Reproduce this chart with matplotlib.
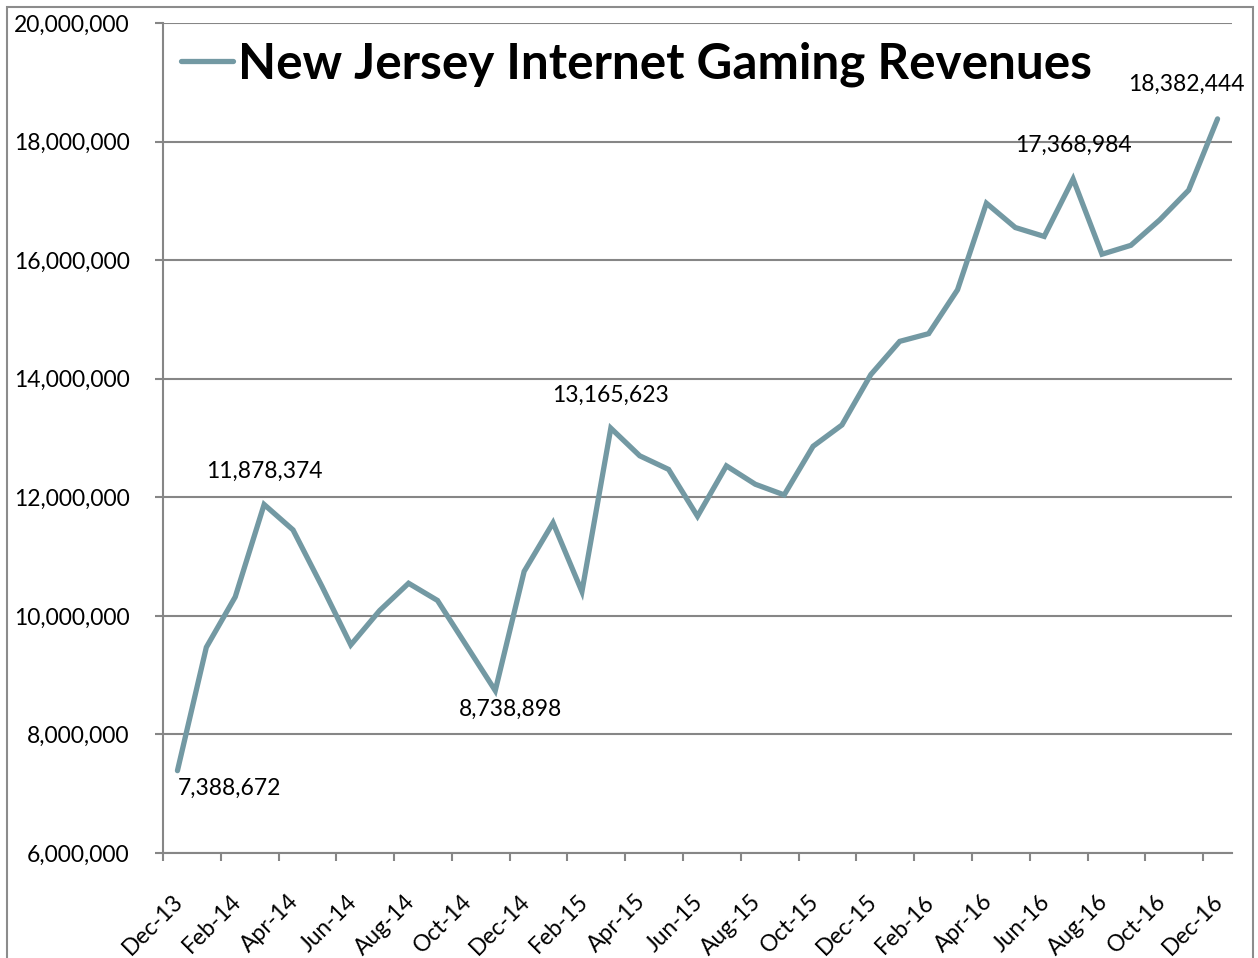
import matplotlib.pyplot as plt
from matplotlib.ticker import FuncFormatter
from matplotlib.transforms import ScaledTranslation
from matplotlib.patches import Rectangle

plt.rcParams['font.family'] = ['Lato', 'DejaVu Sans']

# Monthly revenue, Dec-13 .. Dec-16
revenue = [
    7388672, 9470000, 10320000, 11878374, 11450000, 10500000, 9510000,
    10090000, 10550000, 10260000, 9500000, 8738898, 10750000,
    11570000, 10410000, 13165623, 12700000, 12470000, 11680000,
    12530000, 12220000, 12040000, 12860000, 13220000, 14070000,
    14630000, 14760000, 15500000, 16960000, 16550000, 16400000,
    17368984, 16100000, 16250000, 16680000, 17180000, 18382444,
]
tick_labels = [
    "Dec-13", "Feb-14", "Apr-14", "Jun-14", "Aug-14", "Oct-14", "Dec-14",
    "Feb-15", "Apr-15", "Jun-15", "Aug-15", "Oct-15", "Dec-15",
    "Feb-16", "Apr-16", "Jun-16", "Aug-16", "Oct-16", "Dec-16",
]
# which points get a value label, and where (pixel offsets)
label_idx = [0, 3, 11, 15, 31, 36]
label_off = [(52, -18), (0, 33), (15, -19), (0, 33), (0, 34), (-31, 35)]

LINE = '#7399a3'
GRID = '#868686'
FS = 16.5

fig = plt.figure(figsize=(12.58, 9.58), dpi=100)
fig.patches.append(Rectangle((7 / 1258, -0.05), 1246 / 1258, 1.05 - 7 / 958,
                             transform=fig.transFigure, fill=False,
                             edgecolor='#8c8c8c', linewidth=1.5))
ax = fig.add_axes([163 / 1258, 1 - 853 / 958, (1232 - 163) / 1258, (853 - 23) / 958])

x = [i + 0.5 for i in range(len(revenue))]
ax.plot(x, revenue, color=LINE, linewidth=3.8, solid_joinstyle='miter',
        solid_capstyle='round', label='New Jersey Internet Gaming Revenues')

for i, (dx, dy) in zip(label_idx, label_off):
    ax.annotate(f"{revenue[i]:,}", (x[i], revenue[i]), xytext=(dx, dy),
                textcoords='offset pixels', ha='center', va='center',
                fontsize=FS, color='black')

ax.set_xlim(0, len(revenue))
ax.set_ylim(6000000, 20000000)
ax.set_yticks(range(6000000, 20000001, 2000000))
ax.yaxis.set_major_formatter(FuncFormatter(lambda v, p: f"{int(v):,}"))
ax.set_xticks(range(0, len(revenue), 2))
ax.set_xticklabels(tick_labels, rotation=45, ha='right', va='center',
                   rotation_mode='anchor')

ax.grid(axis='y', color=GRID, linewidth=1.5)
ax.set_axisbelow(True)
for s in ['top', 'right']:
    ax.spines[s].set_visible(False)
for s in ['left', 'bottom']:
    ax.spines[s].set_color(GRID)
    ax.spines[s].set_linewidth(1.5)
ax.tick_params(axis='both', colors=GRID, length=6, width=1.5, labelcolor='black',
               labelsize=FS)
ax.tick_params(axis='y', pad=18)
ax.tick_params(axis='x', pad=18)

offset = ScaledTranslation(17 / 100, -12 / 100, fig.dpi_scale_trans)
for lbl in ax.get_xticklabels():
    lbl.set_transform(lbl.get_transform() + offset)

leg = ax.legend(loc='upper left', bbox_to_anchor=(0.0, 1.0), frameon=False,
                prop={'weight': 'bold', 'size': 35.6}, handlelength=1.05,
                handletextpad=0.1, borderaxespad=0.27, borderpad=0.1)

fig.savefig('out.png', dpi=100)
